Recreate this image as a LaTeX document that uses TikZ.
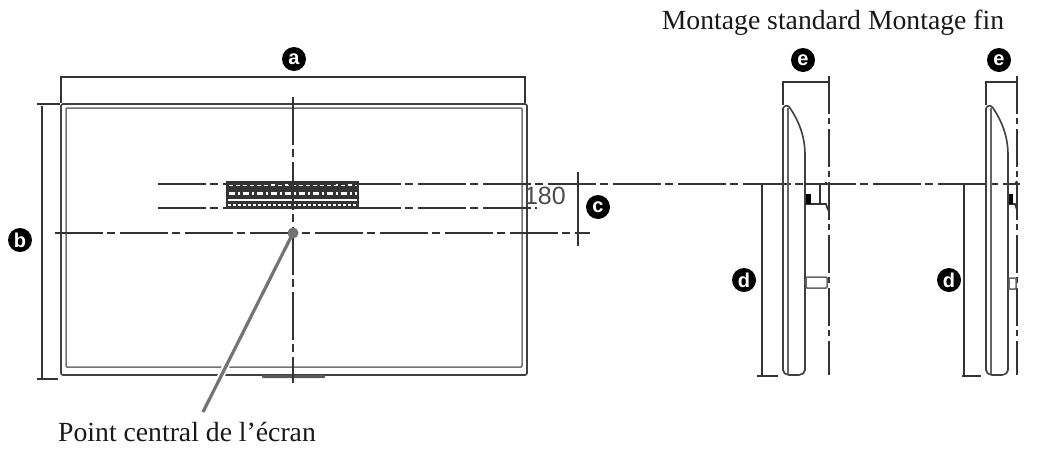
\documentclass[tikz,border=0pt]{standalone}
\usepackage{fontspec}
\setmainfont{Liberation Serif}
\newfontfamily\labelfont{Liberation Sans}
\tikzset{
  dimline/.style={line width=1.2pt,color=black!80},
  frameline/.style={line width=1.6pt,color=black!75},
  axisline/.style={line width=1.3pt,color=black!80,dash pattern=on 48pt off 4pt on 8pt off 5pt},
  badge/.style={circle,fill=black,text=white,inner sep=0pt,minimum size=24pt,font=\labelfont\bfseries\fontsize{20}{20}\selectfont},
  caption/.style={inner sep=0pt,font=\fontsize{27.7}{30}\selectfont,color=black!90}
}
\begin{document}
\begin{tikzpicture}[x=1pt,y=-1pt]
  \useasboundingbox (0,0) rectangle (1037,448);
  % front view
  \draw[frameline,rounded corners=2pt] (61,104) rectangle (527,375);
  \draw[line width=1.5pt,color=black!55,rounded corners=1pt] (66,108) rectangle (522,367);
  \fill[color=black!65,rounded corners=1pt] (262,375) rectangle (325,378);
  \fill[color=black!80] (226,181) rectangle (359,209);
  \draw[color=white,line width=2.5pt,dash pattern=on 4pt off 3pt] (229,185) -- (357,185);
  \draw[color=white,line width=3pt,dash pattern=on 6pt off 3pt on 2pt off 3pt] (229,193) -- (357,193);
  \draw[color=white,line width=2pt] (228,199.5) -- (357,199.5);
  \draw[color=white,line width=2pt,dash pattern=on 3pt off 2pt] (228,205) -- (357,205);
  \draw[axisline] (293,97) -- (293,383);
  \draw[axisline] (55,233) -- (590,233);
  \draw[axisline] (158,184) -- (1020,184);
  \draw[axisline] (158,208) -- (537,208);
  % a
  \draw[dimline] (61,103) -- (61,77) -- (525,77) -- (525,103);
  \node[badge] (a) at (294,59) {a};
  % b
  \draw[dimline] (37,104) -- (60,104);
  \draw[dimline] (37,379) -- (58,379);
  \draw[dimline] (42,106) -- (42,379);
  \node[badge] (b) at (20,240) {b};
  % c
  \draw[dimline] (578,172) -- (578,246);
  \node[badge] (c) at (598,207) {c};
  \node[inner sep=0pt,anchor=east,font=\labelfont\fontsize{25}{25}\selectfont,color=black!70] (gap) at (566,196) {180};
  % pointer
  \coordinate (centre) at (293,233);
  \node[caption,anchor=north west] (point) at (58,422) {Point central de l’écran};
  \draw[color=white,line width=7pt] (227,364) -- (215,388);
  \draw[color=black!55,line width=3.2pt] (centre) -- (203,412);
  \fill[color=black!55] (centre) circle(5.5);
  % standard side view
  \node[caption] (mount) at (833,23) {Montage standard Montage fin};
  \draw[frameline,rounded corners=2pt] (783,108) -- (783,372) -- (787,375) -- (801,375) -- (805,372) -- (805,152);
  \draw[frameline] (783,108) .. controls (785,105) and (788,105) .. (790,108) .. controls (798,120) and (805,135) .. (805,155);
  \draw[line width=1.4pt,color=black!60] (788,108) -- (788,374);
  \draw[axisline,dash pattern=on 38pt off 4pt on 6pt off 5pt] (829,76) -- (829,375);
  \draw[dimline] (783,105) -- (783,82) -- (829,82);
  \node[badge] (e1) at (803,60) {e};
  \draw[dimline] (757,376) -- (778,376);
  \draw[dimline] (762,185) -- (762,376);
  \node[badge] (d1) at (744,280) {d};
  \draw[line width=1.6pt,color=black!80] (805,184) -- (826,184) -- (826,182);
  \draw[line width=1.6pt,color=black!80] (805,204) -- (826,204) -- (828,210);
  \draw[line width=1.3pt,color=black!80] (820,184) -- (820,204);
  \fill[color=black] (806,194) rectangle (811,204);
  \draw[line width=1.5pt,color=black!60,rounded corners=1pt] (806,277) rectangle (827,288);
  % thin side view
  \draw[frameline,rounded corners=2pt] (986,108) -- (986,372) -- (990,375) -- (1004,375) -- (1008,372) -- (1008,152);
  \draw[frameline] (986,108) .. controls (988,105) and (991,105) .. (993,108) .. controls (1001,120) and (1008,135) .. (1008,155);
  \draw[line width=1.4pt,color=black!60] (991,108) -- (991,374);
  \draw[axisline,dash pattern=on 38pt off 4pt on 6pt off 5pt] (1017,76) -- (1017,375);
  \draw[dimline] (986,105) -- (986,82) -- (1017,82);
  \node[badge] (e2) at (999,60) {e};
  \draw[dimline] (962,376) -- (981,376);
  \draw[dimline] (964,185) -- (964,376);
  \node[badge] (d2) at (949,280) {d};
  \draw[line width=1.6pt,color=black!80] (1008,184) -- (1015,184) -- (1017,181);
  \draw[line width=1.6pt,color=black!80] (1009,204) -- (1015,204) -- (1017,210);
  \fill[color=black] (1009,194) rectangle (1013,204);
  \draw[line width=1.5pt,color=black!60,rounded corners=1pt] (1009,278) rectangle (1016,289);
\end{tikzpicture}
\end{document}
